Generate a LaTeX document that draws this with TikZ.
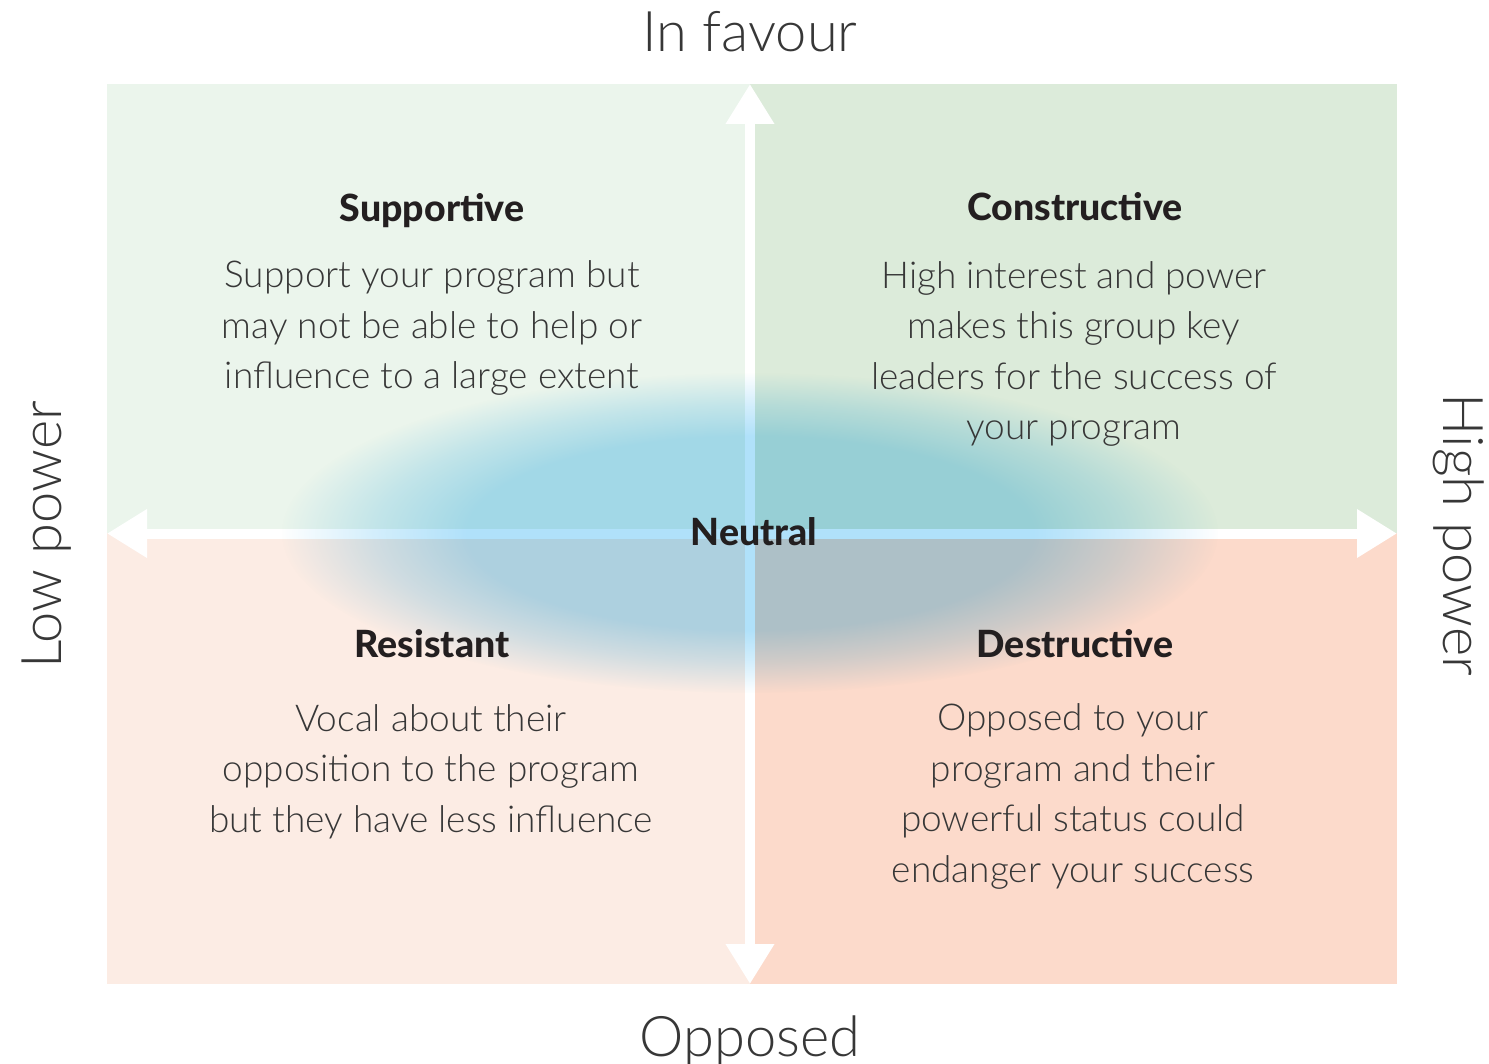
\documentclass[tikz,border=0pt]{standalone}
\usepackage{fontspec}
\usetikzlibrary{arrows.meta,fadings}
\newfontfamily\latolight{Lato Light}
\newfontfamily\latoheavy{Lato Heavy}
\definecolor{qtl}{RGB}{235,245,236}
\definecolor{qtr}{RGB}{220,235,218}
\definecolor{qbl}{RGB}{252,236,228}
\definecolor{qbr}{RGB}{252,218,203}
\definecolor{blobc}{RGB}{176,225,250}
\definecolor{headc}{RGB}{35,31,32}
\definecolor{bodyc}{RGB}{55,55,55}
\pgfdeclareradialshading{blobshade}{\pgfpointorigin}{color(0bp)=(white); color(15bp)=(white); color(20bp)=(white!55!black); color(25bp)=(black); color(50bp)=(black)}
\pgfdeclarefading{blobfade}{\pgfuseshading{blobshade}}
\tikzset{
  axisline/.style={draw=white, line width=10pt, {Triangle[length=40pt,width=46pt]}-{Triangle[length=40pt,width=46pt]}},
  titletext/.style={font=\latolight\fontsize{56}{60}\selectfont, text=bodyc, inner sep=0pt},
  headtext/.style={font=\latoheavy\fontsize{37.5}{42}\selectfont, text=headc, inner sep=0pt},
  bodytext/.style={font=\latolight\fontsize{37}{50.5}\selectfont, text=bodyc, align=center, inner sep=0pt},
}
\begin{document}
\begin{tikzpicture}[x=1pt,y=-1pt]
\useasboundingbox (0,0) rectangle (1489,1064);
\fill[white] (0,0) rectangle (1489,1064);
% quadrants
\fill[qtl] (107,84) rectangle (750,533);
\fill[qtr] (750,84) rectangle (1397,533);
\fill[qbl] (107,533) rectangle (750,984);
\fill[qbr] (750,533) rectangle (1397,984);
% axes
\coordinate (top) at (750,84);
\coordinate (bottom) at (750,984);
\coordinate (left) at (107,533.5);
\coordinate (right) at (1397,533.5);
\draw[axisline] (bottom) -- (top);
\draw[axisline] (left) -- (right);
% neutral blob
\fill[blobc, path fading=blobfade, blend mode=multiply] (750,533) ellipse (468pt and 160pt);
% axis labels
\node[titletext, anchor=base] (fav) at (750,52) {In favour};
\node[titletext, anchor=base] (opp) at (750,1056) {Opposed};
\node[titletext, anchor=base, rotate=90] (low) at (61,535) {Low power};
\node[titletext, anchor=base, rotate=-90] (high) at (1443,535) {High power};
% quadrant texts (multi-line nodes: base = last line)
\node[headtext, anchor=base] (suph) at (432,222) {Supportive};
\node[bodytext, anchor=base] (supb) at (432,389) {Support your program but\\may not be able to help or\\influence to a large extent};
\node[headtext, anchor=base] (conh) at (1075,221) {Constructive};
\node[bodytext, anchor=base] (conb) at (1074,440) {High interest and power\\makes this group key\\leaders for the success of\\your program};
\node[headtext, anchor=base] (resh) at (432,657) {Resistant};
\node[bodytext, anchor=base] (resb) at (431,832) {Vocal about their\\opposition to the program\\but they have less influence};
\node[headtext, anchor=base] (desh) at (1075,657) {Destructive};
\node[bodytext, anchor=base] (desb) at (1073,882) {Opposed to your\\program and their\\powerful status could\\endanger your success};
\node[headtext, anchor=base] (neu) at (754,545) {Neutral};
\end{tikzpicture}
\end{document}
